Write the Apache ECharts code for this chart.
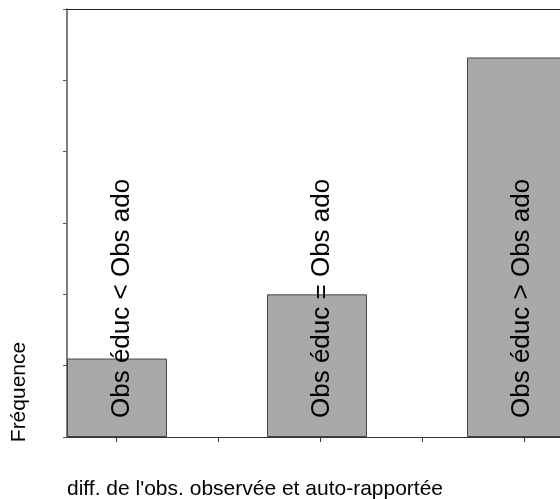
<!DOCTYPE html>
<html>
<head>
<meta charset="utf-8">
<script src="https://cdn.jsdelivr.net/npm/echarts@6/dist/echarts.min.js"></script>
<style>
html,body{margin:0;padding:0;background:#fff;}
#chart{width:560px;height:499px;}
</style>
</head>
<body>
<div id="chart"></div>
<script>
// Data
const categories = ['Obs éduc < Obs ado', 'Obs éduc = Obs ado', 'Obs éduc > Obs ado'];
const barCenters = [1.5, 3.5, 5.5];
const frequencies = [1.1, 2.0, 5.32];
const xTickValues = [1.497, 2.517, 3.537, 4.557, 5.577];
const yTitle = 'Fréquence';
const xTitle = "diff. de l'obs. observée et auto-rapportée";

const FONT = '"Liberation Sans", Arial, sans-serif';
const chart = echarts.init(document.getElementById('chart'), null, {renderer: 'canvas'});

const barData = frequencies.map((v, i) => [barCenters[i], v]);

chart.setOption({
  animation: false,
  backgroundColor: '#fff',
  grid: {left: 67, top: 9, right: 0, bottom: 62, containLabel: false},
  xAxis: [
    {
      type: 'value', min: 1, max: 5.93, position: 'bottom',
      axisLine: {show: true, onZero: false, lineStyle: {color: '#333', width: 1}},
      axisTick: {show: true, inside: false, length: 5, customValues: xTickValues, lineStyle: {color: '#333', width: 1}},
      axisLabel: {show: false},
      splitLine: {show: false}
    },
    {
      type: 'value', min: 1, max: 5.93, position: 'top',
      axisLine: {show: true, onZero: false, lineStyle: {color: '#222', width: 1}},
      axisTick: {show: false}, axisLabel: {show: false}, splitLine: {show: false}
    }
  ],
  yAxis: {
    type: 'value', min: 0, max: 6, interval: 1,
    axisLine: {show: true, lineStyle: {color: '#555', width: 1.5}},
    axisTick: {show: true, inside: false, length: 4, lineStyle: {color: '#555', width: 1}},
    axisLabel: {show: false},
    splitLine: {show: false}
  },
  series: [{
    type: 'bar',
    xAxisIndex: 0,
    data: barData,
    barWidth: 100,
    clip: true,
    itemStyle: {color: '#a9a9a9', borderColor: '#444', borderWidth: 1},
    label: {
      show: true,
      position: 'insideBottom',
      distance: 19,
      rotate: 90,
      align: 'left',
      verticalAlign: 'middle',
      offset: [0, 5],
      formatter: p => categories[p.dataIndex],
      color: '#000',
      fontFamily: FONT,
      fontSize: 26
    }
  }],
  graphic: [
    {
      type: 'text', x: 19, y: 392, rotation: Math.PI / 2,
      style: {text: yTitle, fill: '#000', font: '21px ' + FONT, align: 'center', verticalAlign: 'middle'}
    },
    {
      type: 'text', x: 67, y: 489,
      style: {text: xTitle, fill: '#000', font: '21px ' + FONT, align: 'left', verticalAlign: 'middle'}
    }
  ]
});
</script>
</body>
</html>
